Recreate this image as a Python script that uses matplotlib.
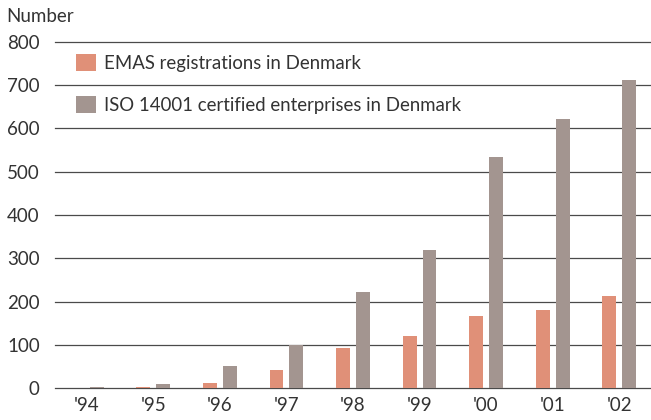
import matplotlib
matplotlib.use("Agg")
import matplotlib.pyplot as plt
import numpy as np
from matplotlib.patches import Patch

# --------------------------------------------------------------------------- #
# Data
# --------------------------------------------------------------------------- #
years = ["'94", "'95", "'96", "'97", "'98", "'99", "'00", "'01", "'02"]
emas = [1, 3, 12, 43, 92, 121, 167, 181, 213]
iso = [3, 10, 52, 100, 223, 320, 534, 621, 711]
yticks = [0, 100, 200, 300, 400, 500, 600, 700, 800]

EMAS_COL = "#E09078"
ISO_COL = "#A39590"
TEXT_COL = "#333333"
GRID_COL = "#4a4a4a"

plt.rcParams["font.family"] = ["Lato", "DejaVu Sans"]

fig = plt.figure(figsize=(6.51, 4.20), dpi=100)
ax = fig.add_axes([55 / 651, (420 - 388.3) / 420, 596 / 651, 346.6 / 420])

x = np.arange(len(years))
w = 0.21
off = 0.15
ax.bar(x - off, emas, width=w, color=EMAS_COL, zorder=3)
ax.bar(x + off, iso, width=w, color=ISO_COL, zorder=3)

ax.set_xlim(-0.48, 8.48)
ax.set_ylim(0, 800)
ax.set_yticks(yticks)
ax.set_yticklabels([str(v) for v in yticks])
ax.set_xticks(x)
ax.set_xticklabels(years)
ax.tick_params(axis="both", length=0, labelsize=13.5, colors=TEXT_COL)
ax.tick_params(axis="y", pad=11)
ax.tick_params(axis="x", pad=6)

for v in yticks:
    ax.axhline(v, color=GRID_COL, lw=0.9, zorder=1, clip_on=False)
for s in ax.spines.values():
    s.set_visible(False)

fig.text(6 / 651, 1 - 16 / 420, "Number", fontsize=13.5, color=TEXT_COL,
         ha="left", va="center")

handles = [Patch(facecolor=EMAS_COL), Patch(facecolor=ISO_COL)]
labels = ["EMAS registrations in Denmark",
          "ISO 14001 certified enterprises in Denmark"]
ax.legend(handles, labels, loc="upper left", bbox_to_anchor=(21 / 596, 0.965),
          frameon=False, fontsize=13.4, labelcolor=TEXT_COL,
          handlelength=1.08, handleheight=1.03, handletextpad=0.45,
          labelspacing=1.3, borderaxespad=0, borderpad=0)

fig.savefig("out.png", dpi=100)
